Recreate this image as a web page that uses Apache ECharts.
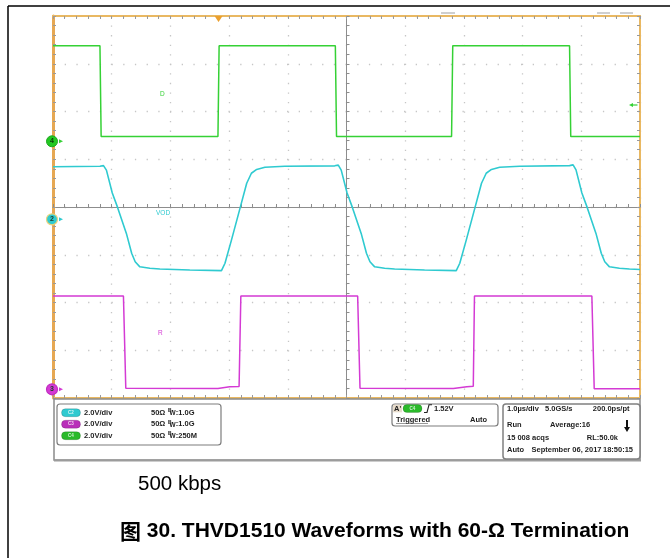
<!DOCTYPE html>
<html>
<head>
<meta charset="utf-8">
<script src="https://cdn.jsdelivr.net/npm/echarts@6/dist/echarts.min.js"></script>
<style>
  html, body { margin: 0; padding: 0; background: #fff; }
  #main { width: 670px; height: 558px; }
</style>
</head>
<body>
<div id="main"></div>
<script>
// ---- Acquisition data (time in µs relative to screen centre, 1 µs/div) ----
const VOLTS_PER_DIV = 2.0;

// C4 "D" – driver input
const dTime  = [-5.00, -4.20, -4.18, -2.19, -2.17, -0.19, -0.17, 1.79, 1.81, 3.80, 3.82, 5.00];
const dVolts = [ 4.00,  4.00,  0.20,  0.20,  4.00,  4.00,  0.20, 0.20, 4.00, 4.00, 0.20, 0.20];

// C2 "VOD" – differential bus voltage
const vodTime  = [-5.00, -4.20, -4.14, -4.09, -3.99, -3.90, -3.75, -3.66, -3.60, -3.52, -3.35, -3.18, -2.67, -2.13,
                  -2.07, -1.96, -1.81, -1.70, -1.62, -1.53, -1.39, -1.05, -0.20,
                  -0.14, -0.09,  0.01,  0.10,  0.25,  0.34,  0.40,  0.48,  0.65,  0.82,  1.33,  1.87,
                   1.93,  2.04,  2.19,  2.30,  2.38,  2.47,  2.61,  2.95,  3.80,
                   3.86,  3.91,  4.01,  4.10,  4.25,  4.34,  4.40,  4.48,  4.65,  4.82,  5.00];
const vodVolts = [ 2.20,  2.22,  2.25,  2.06,  1.10,  0.50, -0.59, -1.42, -1.78, -1.99, -2.05, -2.08, -2.12, -2.15,
                  -1.84, -0.87,  0.50,  1.51,  1.93,  2.09,  2.18,  2.22,  2.24,
                   2.27,  2.06,  1.10,  0.50, -0.59, -1.42, -1.78, -1.99, -2.05, -2.08, -2.12, -2.15,
                  -1.84, -0.87,  0.50,  1.51,  1.93,  2.09,  2.18,  2.22,  2.25,
                   2.28,  2.07,  1.10,  0.50, -0.59, -1.42, -1.78, -1.99, -2.05, -2.08, -2.10];

// C3 "R" – receiver output
const rTime  = [-5.00, -3.80, -3.76, -2.19, -1.99, -1.83, -1.80, 0.19, 0.23, 1.82, 2.05, 2.16, 2.18, 4.18, 4.22, 5.00];
const rVolts = [ 3.91,  3.91,  0.04,  0.03,  0.11,  0.12,  3.91, 3.91, 0.04, 0.03, 0.11, 0.13, 3.91, 3.91, 0.02, 0.02];

// Vertical position of each channel's ground reference, in divisions from centre
const offsetC4 = 1.376;
const offsetC2 = -0.258;
const offsetC3 = -3.818;

// Trigger: C4 rising edge
const triggerTime = -2.18;
const triggerLevel = 1.52;

const toDiv = (times, volts, offset) => times.map((t, i) => [t, offset + volts[i] / VOLTS_PER_DIV]);

const GREEN = '#35d135';
const CYAN = '#2fcad0';
const MAGENTA = '#d43ad4';
const FRAME = '#e9b862';

const chart = echarts.init(document.getElementById('main'), null, { renderer: 'canvas' });

function frameAxis(extra) {
  return Object.assign({
    type: 'value',
    axisLine: { show: true, onZero: false, lineStyle: { color: FRAME, width: 2 } },
    axisTick: { show: true, inside: true, length: 3, lineStyle: { color: '#9a9a9a', width: 1 } },
    minorTick: { show: true, splitNumber: 5, length: 3, lineStyle: { color: '#9a9a9a', width: 1 } },
    axisLabel: { show: false },
    splitLine: { show: false }
  }, extra);
}

function groundMarker(num, color, border, offset) {
  return {
    silent: true,
    animation: false,
    data: [
      { coord: [-5, offset], symbol: 'circle', symbolSize: 11, symbolOffset: [-1, 0],
        itemStyle: { color: color, borderColor: border, borderWidth: 1.2 },
        label: { show: true, position: 'inside', formatter: String(num), fontSize: 7, fontWeight: 'bold', color: '#1d3d2a' } },
      { coord: [-5, offset], symbol: 'triangle', symbolSize: [4, 4], symbolRotate: -90, symbolOffset: [8, 0],
        itemStyle: { color: color }, label: { show: false } }
    ]
  };
}

const option = {
  backgroundColor: '#ffffff',
  animation: false,
  grid: { left: 53, top: 16, width: 587, height: 382, containLabel: false },
  xAxis: [
    {
      type: 'value', min: -5, max: 5, interval: 1,
      axisLine: { show: true, onZero: true, lineStyle: { color: '#8d8d8d', width: 1 } },
      axisTick: { show: true, inside: true, length: 3, lineStyle: { color: '#8d8d8d' } },
      minorTick: { show: true, splitNumber: 5, length: 3, lineStyle: { color: '#8d8d8d' } },
      axisLabel: { show: false },
      splitLine: { show: true, lineStyle: { color: '#c6c6c6', width: 1.3, type: [1.3, 8.25] } }
    },
    frameAxis({ position: 'top', min: -5, max: 5, interval: 1 }),
    frameAxis({ position: 'bottom', min: -5, max: 5, interval: 1 })
  ],
  yAxis: [
    {
      type: 'value', min: -4, max: 4, interval: 1,
      axisLine: { show: true, onZero: true, lineStyle: { color: '#8d8d8d', width: 1 } },
      axisTick: { show: true, inside: true, length: 3, lineStyle: { color: '#8d8d8d' } },
      minorTick: { show: true, splitNumber: 5, length: 3, lineStyle: { color: '#8d8d8d' } },
      axisLabel: { show: false },
      splitLine: { show: true, lineStyle: { color: '#c6c6c6', width: 1.3, type: [1.3, 10.4] } }
    },
    frameAxis({ position: 'left', min: -4, max: 4, interval: 1,
      axisLine: { show: true, onZero: false, lineStyle: { color: '#e6a853', width: 3 } } }),
    frameAxis({ position: 'right', min: -4, max: 4, interval: 1 })
  ],
  series: [
    {
      name: 'VOD', type: 'line', showSymbol: false, symbol: 'none',
      data: toDiv(vodTime, vodVolts, offsetC2),
      lineStyle: { color: CYAN, width: 1.6 },
      markPoint: groundMarker(2, CYAN, '#e8d27a', offsetC2),
      z: 3
    },
    {
      name: 'R', type: 'line', showSymbol: false, symbol: 'none',
      data: toDiv(rTime, rVolts, offsetC3),
      lineStyle: { color: MAGENTA, width: 1.5 },
      markPoint: groundMarker(3, MAGENTA, '#c02cc0', offsetC3),
      z: 3
    },
    {
      name: 'D', type: 'line', showSymbol: false, symbol: 'none',
      data: toDiv(dTime, dVolts, offsetC4),
      lineStyle: { color: GREEN, width: 1.5 },
      markPoint: {
        silent: true, animation: false,
        data: [
          { coord: [-5, offsetC4], symbol: 'circle', symbolSize: 11, symbolOffset: [-1, 0],
            itemStyle: { color: '#22c822', borderColor: '#1ea81e', borderWidth: 1 },
            label: { show: true, position: 'inside', formatter: '4', fontSize: 7, fontWeight: 'bold', color: '#0c3d0c' } },
          { coord: [-5, offsetC4], symbol: 'triangle', symbolSize: [4, 4], symbolRotate: -90, symbolOffset: [8, 0],
            itemStyle: { color: GREEN }, label: { show: false } },
          // trigger position
          { coord: [triggerTime, 4], symbol: 'triangle', symbolSize: [8, 6], symbolRotate: 180, symbolOffset: [0, 3],
            itemStyle: { color: '#eba02e' }, label: { show: false } },
          // trigger level
          { coord: [5, offsetC4 + triggerLevel / VOLTS_PER_DIV], symbol: 'triangle', symbolSize: [4, 4], symbolRotate: 90,
            symbolOffset: [-9, 0], itemStyle: { color: GREEN }, label: { show: false } },
          { coord: [5, offsetC4 + triggerLevel / VOLTS_PER_DIV], symbol: 'rect', symbolSize: [5, 1.2],
            symbolOffset: [-5, 0], itemStyle: { color: GREEN }, label: { show: false } }
        ]
      },
      z: 4
    }
  ],
  graphic: []
};

// ---- Static decorations: figure border, trace names, status panel, captions ----
const g = [];
const TXT = '#1e1e1e';
const smallFont = 'bold 7.5px "Liberation Sans", Arial, sans-serif';

// figure border
g.push({ type: 'line', shape: { x1: 8, y1: 6, x2: 670, y2: 6 }, style: { stroke: '#000', lineWidth: 1.5 }, silent: true });
g.push({ type: 'line', shape: { x1: 8, y1: 6, x2: 8, y2: 558 }, style: { stroke: '#000', lineWidth: 1.5 }, silent: true });

// small marks above the graticule
[[441, 455], [597, 610], [620, 633]].forEach(([a, b]) => {
  g.push({ type: 'line', shape: { x1: a, y1: 13, x2: b, y2: 13 }, style: { stroke: '#b0b0b0', lineWidth: 1.2 }, silent: true });
});

// trace names
g.push({ type: 'text', x: 160, y: 94, style: { text: 'D', font: '6.5px "Liberation Sans", Arial', fill: GREEN, verticalAlign: 'middle' } });
g.push({ type: 'text', x: 156, y: 213, style: { text: 'VOD', font: '6.5px "Liberation Sans", Arial', fill: CYAN, verticalAlign: 'middle' } });
g.push({ type: 'text', x: 158, y: 333, style: { text: 'R', font: '6.5px "Liberation Sans", Arial', fill: MAGENTA, verticalAlign: 'middle' } });

// status panel
g.push({ type: 'rect', shape: { x: 54, y: 399, width: 586, height: 61 },
  style: { fill: '#ffffff', stroke: '#8a8a8a', lineWidth: 1.5 }, silent: true, z: 1 });
g.push({ type: 'line', shape: { x1: 54, y1: 460.5, x2: 641, y2: 460.5 }, style: { stroke: '#9c9c9c', lineWidth: 2 }, silent: true, z: 2 });
g.push({ type: 'rect', shape: { x: 57, y: 404, width: 164, height: 41, r: 3 },
  style: { fill: '#ffffff', stroke: '#7d7d7d', lineWidth: 1.2 }, z: 2 });
g.push({ type: 'rect', shape: { x: 392, y: 404, width: 106, height: 22, r: 3 },
  style: { fill: '#ffffff', stroke: '#7d7d7d', lineWidth: 1.2 }, z: 2 });
g.push({ type: 'rect', shape: { x: 503, y: 404, width: 137, height: 55, r: 3 },
  style: { fill: '#ffffff', stroke: '#808080', lineWidth: 1.5 }, z: 2 });

function badge(x, y, label, color) {
  g.push({ type: 'rect', shape: { x: x, y: y - 4, width: 19, height: 8, r: 4 },
    style: { fill: color, stroke: 'rgba(0,0,0,0.25)', lineWidth: 0.6 }, z: 3 });
  g.push({ type: 'text', x: x + 9.5, y: y, z: 4,
    style: { text: label, font: 'bold 4.5px "Liberation Sans", Arial', fill: 'rgba(255,255,255,0.8)', align: 'center', verticalAlign: 'middle' } });
}
function txt(x, y, s, align) {
  g.push({ type: 'text', x: x, y: y, z: 4,
    style: { text: s, font: smallFont, fill: TXT, align: align || 'left', verticalAlign: 'middle' } });
}
function bw(x, y, s) {
  g.push({ type: 'text', x: x, y: y, z: 4,
    style: {
      text: '{b|B}{w|W}{v|' + s + '}',
      verticalAlign: 'middle',
      rich: {
        b: { font: 'bold 5px "Liberation Sans", Arial', fill: TXT, verticalAlign: 'top', padding: [0, -2, 3, 0] },
        w: { font: 'bold 6.5px "Liberation Sans", Arial', fill: TXT, padding: [2, 0, 0, 0] },
        v: { font: smallFont, fill: TXT }
      }
    } });
}

const chanRows = [
  ['C2', CYAN, '2.0V/div', '50Ω', ':1.0G'],
  ['C3', '#b92fb9', '2.0V/div', '50Ω', ':1.0G'],
  ['C4', '#2aba2a', '2.0V/div', '50Ω', ':250M']
];
chanRows.forEach((row, i) => {
  const y = 412.7 + i * 11.5;
  badge(61.5, y, row[0], row[1]);
  txt(84, y, row[2]);
  txt(151, y, row[3]);
  bw(168, y, row[4]);
});

// trigger box
g.push({ type: 'rect', shape: { x: 393, y: 404.8, width: 9, height: 7.5 }, style: { fill: '#e8dccb' }, z: 3 });
txt(394, 408.5, "A'");
badge(403, 408.5, 'C4', '#2aba2a');
g.push({ type: 'polyline', shape: { points: [[424, 412.5], [427, 412.5], [429, 404.8], [432, 404.8]] },
  style: { stroke: '#222', lineWidth: 1.1, fill: null }, z: 4 });
txt(434, 408.5, '1.52V');
txt(396, 419.5, 'Triggered');
g.push({ type: 'line', shape: { x1: 396, y1: 423.5, x2: 428, y2: 423.5 }, style: { stroke: '#555', lineWidth: 0.6 }, z: 4 });
txt(470, 419.5, 'Auto');

// timebase box
txt(507, 409, '1.0µs/div');
txt(545, 409, '5.0GS/s');
txt(629.5, 409, '200.0ps/pt', 'right');
txt(507, 425, 'Run');
txt(550, 425, 'Average:16');
g.push({ type: 'line', shape: { x1: 627, y1: 420, x2: 627, y2: 428 }, style: { stroke: '#111', lineWidth: 2 }, z: 4 });
g.push({ type: 'polygon', shape: { points: [[624, 427], [630, 427], [627, 432]] }, style: { fill: '#111' }, z: 4 });
txt(507, 437.5, '15 008 acqs');
txt(618, 437.5, 'RL:50.0k', 'right');
txt(507, 450, 'Auto');
txt(531.5, 450, 'September 06, 2017');
txt(633, 450, '18:50:15', 'right');

// captions
g.push({ type: 'text', x: 138, y: 484, z: 4,
  style: { text: '500 kbps', font: '20.5px "Liberation Sans", Arial, sans-serif', fill: '#000', verticalAlign: 'middle' } });
g.push({ type: 'text', x: 120, y: 531, z: 4,
  style: { text: '{c|图} 30. THVD1510 Waveforms with 60-Ω Termination', verticalAlign: 'middle',
    font: 'bold 21px "Liberation Sans", Arial, sans-serif', fill: '#000',
    rich: { c: { font: 'bold 21px "Noto Sans CJK SC", sans-serif', fill: '#000' } } } });

option.graphic = g;
chart.setOption(option);
</script>
</body>
</html>
